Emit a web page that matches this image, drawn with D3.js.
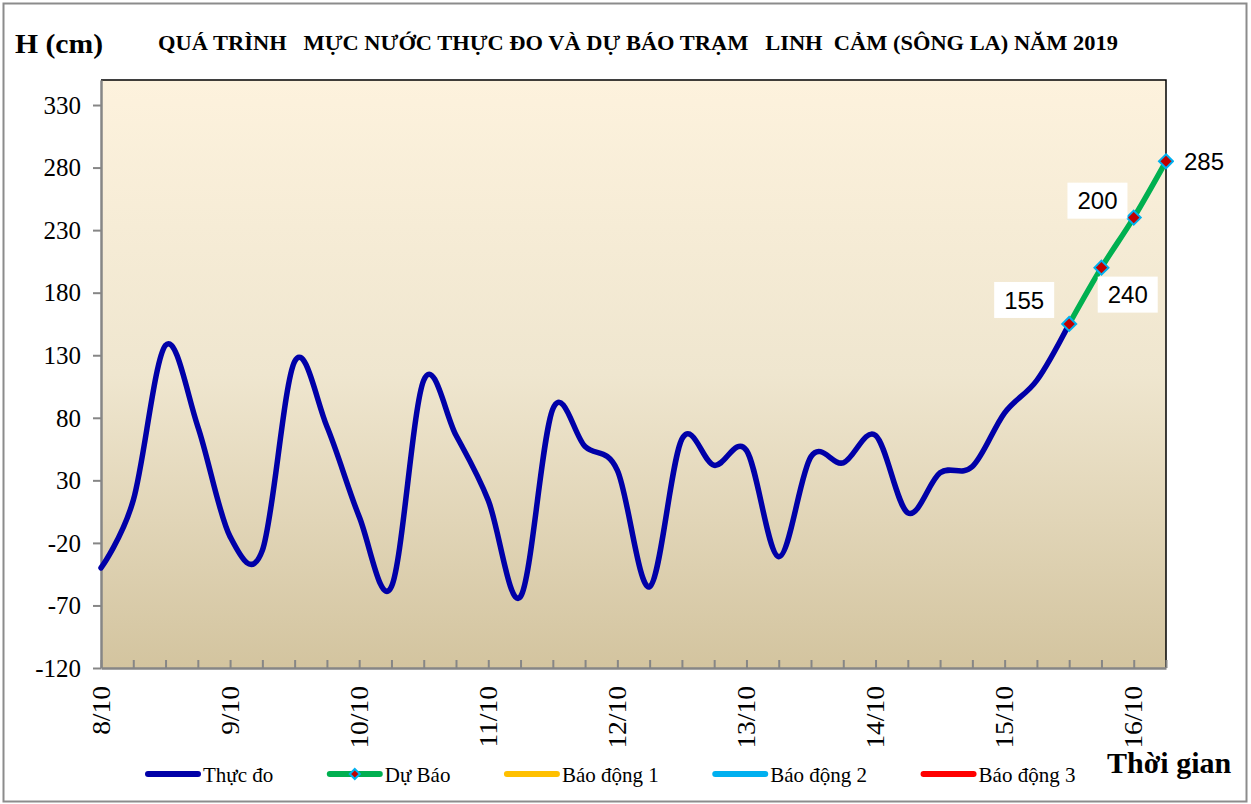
<!DOCTYPE html>
<html lang="vi">
<head>
<meta charset="UTF-8">
<title>Mực nước Linh Cảm 2019</title>
<style>
  body { margin: 0; background: #fff; }
  svg { display: block; }
</style>
</head>
<body>
<svg width="1251" height="804"></svg>
<script src="https://cdn.jsdelivr.net/npm/d3@7/dist/d3.min.js"></script>
<script>
// observed levels every 6 h from 8/10, then the forecast from the last observed point
var thucDo = [-40, 14, 138, 73, -15, -26, 125, 73, 1, -55, 110, 66, 14, -63, 87, 57, 38, -55,
              63, 42, 54, -31, 49, 44, 66, 4, 36, 41, 84, 110, 155];
var duBao = [155, 200, 240, 285];
var dayLabels = ["8/10", "9/10", "10/10", "11/10", "12/10", "13/10", "14/10", "15/10", "16/10"];
var stepsPerDay = 4;
var yTicks = [-120, -70, -20, 30, 80, 130, 180, 230, 280, 330];
var legendNames = ["Thực đo", "Dự Báo", "Báo động 1", "Báo động 2", "Báo động 3"];
var legendColors = ["#0000A8", "#00B050", "#FFC000", "#00B0F0", "#FF0000"];

var SERIF = "'Liberation Serif', 'Times New Roman', serif";

var svg = d3.select("svg"),
    plot = {left: 101, right: 1166, top: 80, bottom: 668};

var nPoints = thucDo.length + duBao.length - 1;
var x = d3.scaleLinear().domain([0, nPoints - 1]).range([plot.left, plot.right]),
    y = d3.scaleLinear().domain([-120, 350]).range([plot.bottom, plot.top]);

// outer frame
svg.append("rect")
  .attr("x", 3.5).attr("y", 3.5).attr("width", 1243).attr("height", 798)
  .attr("fill", "#fff").attr("stroke", "#8c8c8c").attr("stroke-width", 2);

// plot background
var grad = svg.append("defs").append("linearGradient")
  .attr("id", "bg").attr("x1", 0).attr("y1", 0).attr("x2", 0).attr("y2", 1);
grad.append("stop").attr("offset", "0%").attr("stop-color", "#FDF2DD");
grad.append("stop").attr("offset", "50%").attr("stop-color", "#EFE6CF");
grad.append("stop").attr("offset", "100%").attr("stop-color", "#D3C49F");

svg.append("rect")
  .attr("x", plot.left).attr("y", plot.top)
  .attr("width", plot.right - plot.left).attr("height", plot.bottom - plot.top)
  .attr("fill", "url(#bg)");

// top / right border
svg.append("path")
  .attr("d", "M" + plot.left + "," + plot.top + "H" + plot.right + "V" + plot.bottom)
  .attr("fill", "none").attr("stroke", "#000").attr("stroke-width", 1.5);

// y axis
var yAxis = svg.append("g")
  .attr("transform", "translate(" + plot.left + ",0)")
  .call(d3.axisLeft(y).tickValues(yTicks).tickSize(8).tickSizeOuter(0).tickPadding(12)
        .tickFormat(function(d) { return String(d); }));
yAxis.attr("font-family", SERIF).attr("font-size", 25);
yAxis.select(".domain").attr("stroke", "#868686").attr("stroke-width", 2.5);
yAxis.selectAll(".tick line").attr("stroke", "#868686").attr("stroke-width", 2);
yAxis.selectAll(".tick text").attr("fill", "#000").attr("dy", "0.33em");

// x axis: tick every 6 h, date label every day
var xAxis = svg.append("g")
  .attr("transform", "translate(0," + plot.bottom + ")")
  .call(d3.axisBottom(x).tickValues(d3.range(0, nPoints)).tickSize(-8).tickSizeOuter(0)
        .tickFormat(function(d) { return d % stepsPerDay === 0 ? dayLabels[d / stepsPerDay] : ""; }));
xAxis.attr("font-family", SERIF).attr("font-size", 25);
xAxis.select(".domain").attr("stroke", "#868686").attr("stroke-width", 2.5);
xAxis.selectAll(".tick line").attr("stroke", "#868686").attr("stroke-width", 2);
xAxis.selectAll(".tick text")
  .attr("fill", "#000")
  .attr("text-anchor", "end")
  .attr("y", 0).attr("dy", 0)
  .attr("transform", "translate(8,18) rotate(-90) scale(1.1,1)");

// lines
var line = d3.line()
  .curve(d3.curveCatmullRom.alpha(0))
  .x(function(d) { return x(d.i); })
  .y(function(d) { return y(d.v); });

var obs = thucDo.map(function(v, i) { return {i: i, v: v}; });
var fc = duBao.map(function(v, k) { return {i: thucDo.length - 1 + k, v: v}; });

svg.append("path")
  .attr("d", line(obs))
  .attr("fill", "none").attr("stroke", "#0000A8").attr("stroke-width", 5.5)
  .attr("stroke-linejoin", "round").attr("stroke-linecap", "round");

svg.append("path")
  .attr("d", line(fc))
  .attr("fill", "none").attr("stroke", "#00B050").attr("stroke-width", 5.5)
  .attr("stroke-linejoin", "round").attr("stroke-linecap", "round");

function diamond(sel, s) {
  sel.attr("d", "M0," + (-s) + "L" + s + ",0L0," + s + "L" + (-s) + ",0Z")
    .attr("fill", "#C00000").attr("stroke", "#00B0F0").attr("stroke-width", 2);
}

svg.selectAll(".marker").data(fc).enter().append("path")
  .attr("class", "marker")
  .attr("transform", function(d) { return "translate(" + x(d.i) + "," + y(d.v) + ")"; })
  .call(diamond, 7);

// data labels (placed where the original chart has them)
var labelShift = [[-45, -24], [-4, -67], [-6, 77], [38, 0]];
var lab = svg.selectAll(".dlabel").data(fc).enter().append("g")
  .attr("class", "dlabel")
  .attr("transform", function(d, k) {
    return "translate(" + (x(d.i) + labelShift[k][0]) + "," + (y(d.v) + labelShift[k][1]) + ")";
  });
lab.append("rect")
  .attr("x", -30).attr("y", -18).attr("width", 60).attr("height", 36)
  .attr("fill", "#fff");
lab.append("text")
  .attr("text-anchor", "middle").attr("dy", "0.36em")
  .attr("font-family", "'Liberation Sans', Arial, sans-serif").attr("font-size", 24)
  .text(function(d) { return d.v; });

// titles
svg.append("text")
  .attr("font-family", SERIF).attr("x", 15).attr("y", 53)
  .attr("font-size", 28).attr("font-weight", "bold")
  .attr("textLength", 88).attr("lengthAdjust", "spacingAndGlyphs")
  .text("H (cm)");

svg.append("text")
  .attr("font-family", SERIF).attr("x", 158).attr("y", 50)
  .attr("font-size", 21).attr("font-weight", "bold")
  .attr("textLength", 960).attr("lengthAdjust", "spacingAndGlyphs")
  .attr("xml:space", "preserve").style("white-space", "pre")
  .text("QUÁ TRÌNH   MỰC NƯỚC THỰC ĐO VÀ DỰ BÁO TRẠM   LINH  CẢM (SÔNG LA) NĂM 2019");

svg.append("text")
  .attr("font-family", SERIF).attr("x", 1107).attr("y", 773)
  .attr("font-size", 30).attr("font-weight", "bold")
  .text("Thời gian");

// legend
var legend = svg.append("g").attr("transform", "translate(145,774)");
var lx = 0;
legendNames.forEach(function(name, k) {
  var item = legend.append("g").attr("transform", "translate(" + lx + ",0)");
  item.append("line")
    .attr("x1", 3).attr("x2", 53).attr("y1", 0).attr("y2", 0)
    .attr("stroke", legendColors[k]).attr("stroke-width", 6).attr("stroke-linecap", "round");
  if (k === 1) {
    item.append("path").attr("transform", "translate(28,0)").call(diamond, 5);
  }
  var t = item.append("text")
    .attr("font-family", SERIF).attr("x", 58).attr("y", 8)
    .attr("font-size", 21).text(name);
  lx += 58 + t.node().getComputedTextLength() + 53.5;
});
</script>
</body>
</html>
